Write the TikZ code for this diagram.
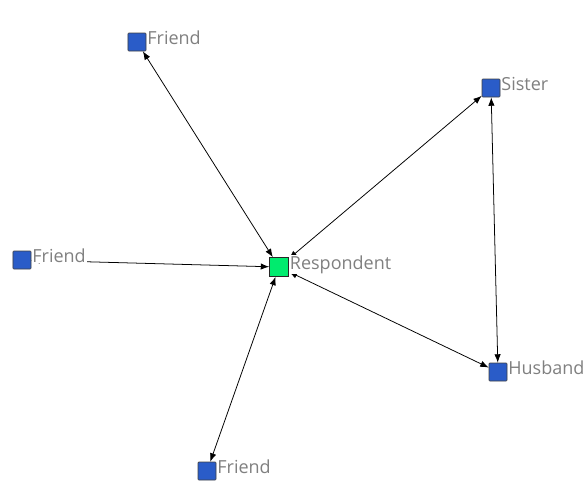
\documentclass[tikz,border=0pt]{standalone}
\usepackage{fontspec}
\setmainfont{Open Sans}
\usetikzlibrary{arrows.meta}
\definecolor{nodeblue}{RGB}{42,92,200}
\definecolor{nodegreen}{RGB}{0,235,110}
\begin{document}
\begin{tikzpicture}[x=0.025cm, y=-0.025cm,
	actor/.style = {draw=black!75, fill=nodeblue, minimum size=0.45cm, inner sep=0pt, rounded corners=0.6pt},
	ego/.style = {draw=black!85, fill=nodegreen, minimum size=0.475cm, inner sep=0pt},
	tie/.style = {{Latex[length=6pt,width=4.5pt]}-{Latex[length=6pt,width=4.5pt]}, line width=0.55pt},
	actorname/.style = {anchor=base west, fill=white, inner sep=0.6pt, text=gray, font=\fontsize{12.8}{15}\selectfont}]
	\useasboundingbox (0,0) rectangle (585,482);
	%actors
	\node[ego] (resp) at (279,267) {};
	\node[actor] (fr1) at (137,42) {};
	\node[actor] (fr2) at (22,260) {};
	\node[actor] (fr3) at (207,471) {};
	\node[actor] (sis) at (491,88) {};
	\node[actor] (hus) at (498,372) {};
	
	%ties
	\foreach \a/\b in {fr1/resp, fr2/resp, fr3/resp, sis/resp, hus/resp, sis/hus}
	\draw[tie] (\a) -- (\b);
	
	%names
	\foreach \n/\t in {resp/Respondent, fr1/Friend, fr2/Friend, fr3/Friend, sis/Sister, hus/Husband}
	\node[actorname] (\n-l) at ([yshift=-1.5pt]\n.east) {\t};
\end{tikzpicture}
\end{document}
